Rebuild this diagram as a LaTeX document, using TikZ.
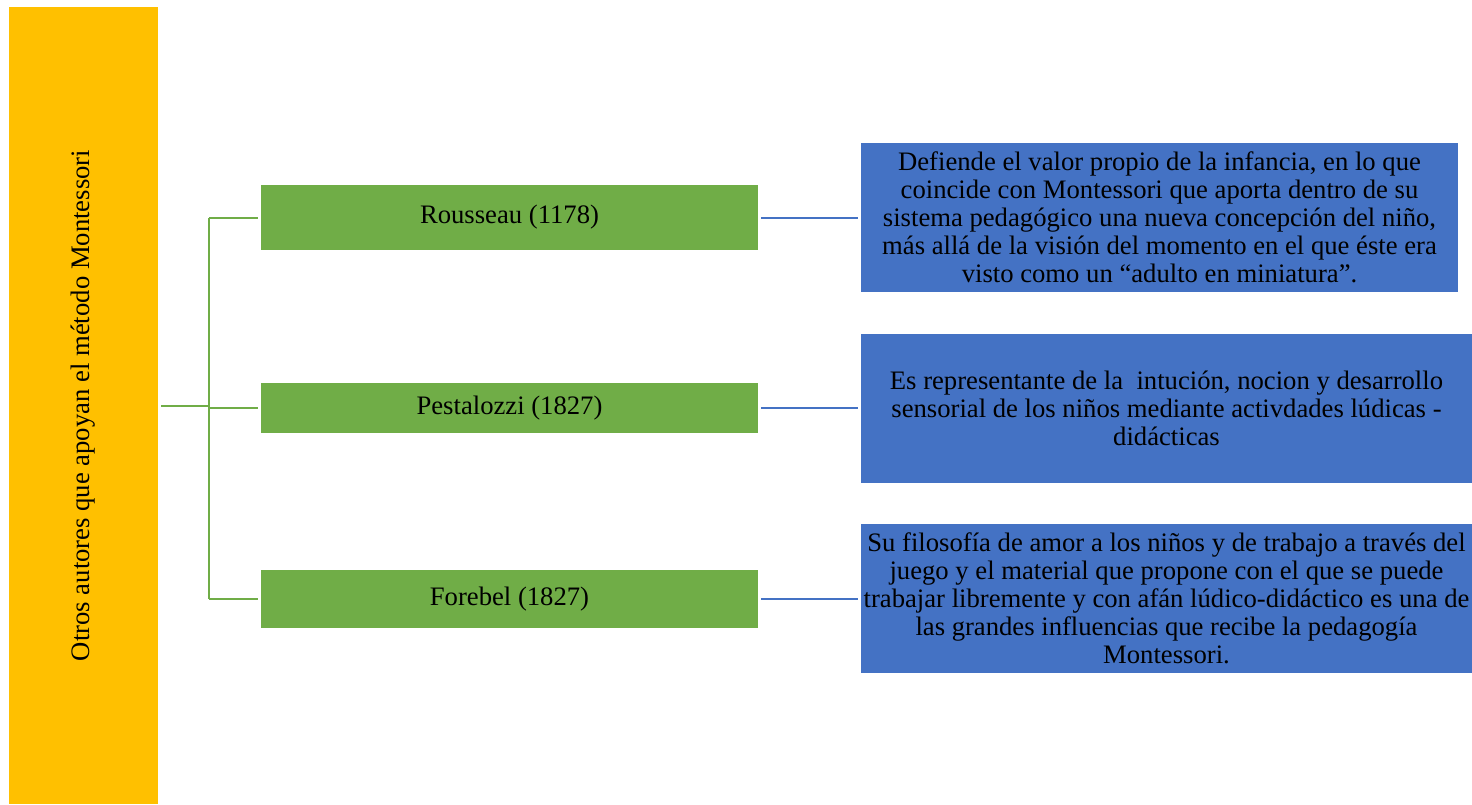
\documentclass[tikz,border=0pt]{standalone}
\usepackage{fontspec}
\setmainfont{Liberation Serif}
\usepackage{tikz}
\usetikzlibrary{calc,positioning}
\definecolor{amarillo}{HTML}{FFC000}
\definecolor{verde}{HTML}{70AD47}
\definecolor{azul}{HTML}{4472C4}
\tikzset{
	titulo/.style={fill=amarillo,minimum width=111.75pt,minimum height=597.75pt,inner sep=0pt,outer sep=2.25pt},
	autor/.style={fill=verde,minimum width=372.75pt,inner sep=0pt,outer sep=2.25pt},
	idea/.style={fill=azul,minimum height=111.75pt,inner sep=0pt,outer sep=2.25pt,align=center},
	rama/.style={draw=verde,line width=1.5pt},
	enlace/.style={draw=azul,line width=1.5pt},
}

\begin{document}
\begin{tikzpicture}[x=0.75pt,y=-0.75pt,font=\fontsize{20}{21}\selectfont]
		\useasboundingbox (0,0) rectangle (1472,804);
		\node(otros) [titulo] at (83.5,405.5) {\rotatebox{90}{Otros autores que apoyan el método Montessori}};
		\node(rou) [autor,minimum height=48.75pt] at (509.5,217.5) {Rousseau (1178)};
		\node(pes) [autor,minimum height=37.5pt] at (509.5,408) {Pestalozzi (1827)};
		\node(fro) [autor,minimum height=43.5pt] at (509.5,599) {Forebel (1827)};
		\node(def) [idea,minimum width=447.75pt] at (1159.5,217.5) {Defiende el valor propio de la infancia, en lo que\\ coincide con Montessori que aporta dentro de su\\ sistema pedagógico una nueva concepción del niño,\\ más allá de la visión del momento en el que éste era\\ visto como un “adulto en miniatura”.};
		\node(rep) [idea,minimum width=458.25pt] at (1166.5,408.5) {Es representante de la \ intución, nocion y desarrollo\\ sensorial de los niños mediante activdades lúdicas -\\ didácticas};
		\node(fil) [idea,minimum width=458.25pt] at (1166.5,598.5) {Su filosofía de amor a los niños y de trabajo a través del\\ juego y el material que propone con el que se puede\\ trabajar libremente y con afán lúdico-didáctico es una de\\ las grandes influencias que recibe la pedagogía\\ Montessori.};

		\draw[rama] (otros.east) -- ++(48,0) coordinate (fork);
		\draw[rama] (fork |- rou.west) -- (fork |- fro.west);
		\path[rama]
			(fork |- rou.west) edge (rou.west)
			(fork |- pes.west) edge (pes.west)
			(fork |- fro.west) edge (fro.west);
		\path[enlace]
			(rou.east) edge (rou.east -| def.west)
			(pes.east) edge (pes.east -| rep.west)
			(fro.east) edge (fro.east -| fil.west);
	\end{tikzpicture}
\end{document}
